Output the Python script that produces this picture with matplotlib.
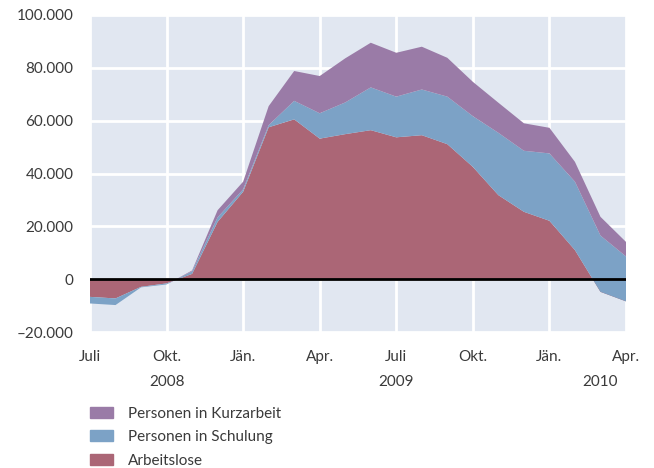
import matplotlib.pyplot as plt
from matplotlib.patches import Patch
from matplotlib.transforms import blended_transform_factory

# Monate Juli 2008 bis April 2010
monate = ['Jul08', 'Aug08', 'Sep08', 'Okt08', 'Nov08', 'Dez08',
          'Jan09', 'Feb09', 'Mär09', 'Apr09', 'Mai09', 'Jun09',
          'Jul09', 'Aug09', 'Sep09', 'Okt09', 'Nov09', 'Dez09',
          'Jan10', 'Feb10', 'Mär10', 'Apr10']

arbeitslose = [-6700, -7300, -2900, -1600, 2000, 21700, 33100, 57500, 60500, 53200, 54900,
               56400, 53700, 54500, 51100, 42500, 31800, 25500, 22100, 11000, -4800, -8400]
schulung = [-2500, -2500, -200, -400, 1000, 1700, 900, 800, 7000, 9600, 12000,
            16200, 15400, 17300, 18000, 19200, 23600, 23100, 25500, 25900, 21300, 17000]
kurzarbeit = [0, 0, 0, 0, 300, 2700, 2900, 7200, 11300, 14100, 16700,
              16900, 16600, 16200, 14700, 13000, 11400, 10400, 9700, 7500, 7100, 5500]

tick_pos = [0, 3, 6, 9, 12, 15, 18, 21]
tick_labels = ['Juli', 'Okt.', 'Jän.', 'Apr.', 'Juli', 'Okt.', 'Jän.', 'Apr.']
jahre = [(3, '2008'), (12, '2009'), (20, '2010')]
y_ticks = [-20000, 0, 20000, 40000, 60000, 80000, 100000]

namen = ['Arbeitslose', 'Personen in Schulung', 'Personen in Kurzarbeit']
farben = ['#ab6676', '#7ca2c6', '#9a7ba7']

plt.rcParams['font.family'] = ['Lato', 'DejaVu Sans']
textfarbe = '#3a3a3a'

fig = plt.figure(figsize=(6.54, 4.68), dpi=100)
ax = fig.add_axes([90/654, 1-332/468, 536/654, 317/468])
ax.set_facecolor('#e1e7f1')

x = list(range(len(monate)))
ax.stackplot(x, arbeitslose, schulung, kurzarbeit, colors=farben, linewidth=0, zorder=2)
ax.axhline(0, color='black', lw=2, zorder=3)

ax.set_xlim(0, len(monate) - 1)
ax.set_ylim(-20000, 100000)
ax.set_xticks(tick_pos)
ax.set_xticklabels(tick_labels)
ax.set_yticks(y_ticks)
ax.set_yticklabels([f'{v:,}'.replace(',', '.').replace('-', '–') for v in y_ticks])
ax.grid(color='white', lw=2, zorder=1)
ax.set_axisbelow(True)
for s in ax.spines.values():
    s.set_visible(False)
ax.tick_params(axis='x', length=0, pad=13, labelsize=11, labelcolor=textfarbe)
ax.tick_params(axis='y', length=0, pad=12, labelsize=11, labelcolor=textfarbe)

trans = blended_transform_factory(ax.transData, ax.transAxes)
for pos, jahr in jahre:
    ax.text(pos, -0.135, jahr, transform=trans, ha='center', va='top', fontsize=11, color=textfarbe)

# Legende
handles = [Patch(color=c, label=n) for c, n in zip(farben, namen)][::-1]
fig.legend(handles=handles, loc='upper left', bbox_to_anchor=(79/654, 1-396/468), frameon=False,
           fontsize=11, labelcolor=textfarbe, handlelength=1.5, handleheight=0.75,
           labelspacing=0.62, handletextpad=1.0, borderaxespad=0.3)

plt.savefig('out.png')
